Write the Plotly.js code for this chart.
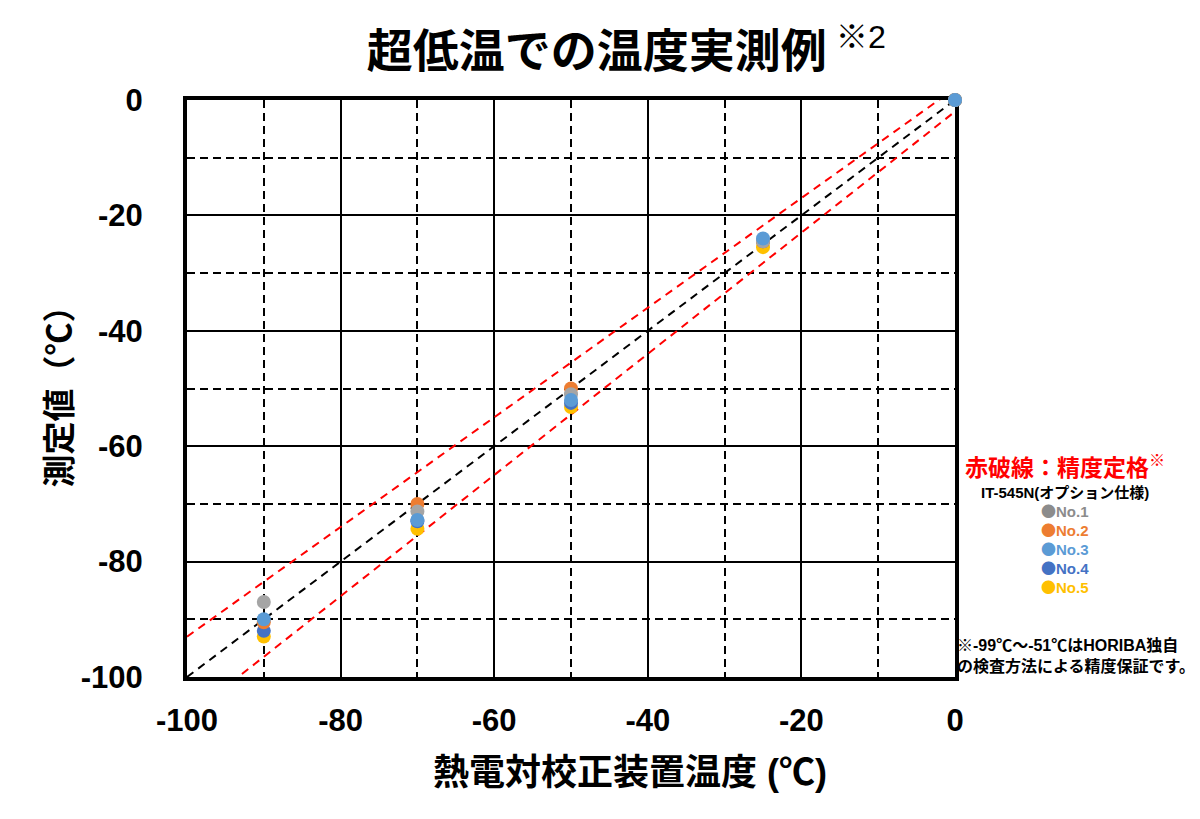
<!DOCTYPE html>
<html>
<head>
<meta charset="utf-8">
<script src="https://cdn.plot.ly/plotly-3.0.1.min.js"></script>
<style>
  body { margin: 0; background: #fff; }
  #chart { width: 1200px; height: 819px; }
</style>
</head>
<body>
<div id="chart"></div>
<script>
// reference temperature (thermocouple calibrator), °C
var refTemp = [-90, -70, -50, -25, 0];

// measured values per unit
var no1 = [-87, -71.3, -51, -24.5, 0];
var no2 = [-90.5, -70, -50, -24.5, 0];
var no3 = [-90, -72.8, -52, -24, 0];
var no4 = [-92, -73, -52.5, -24.5, 0];
var no5 = [-93, -74.3, -53.2, -25.5, 0];

var seriesNames = ['No.1', 'No.2', 'No.3', 'No.4', 'No.5'];
var seriesColors = ['#A5A5A5', '#ED7D31', '#5B9BD5', '#4472C4', '#FFC000'];
var legendColors = ['#8C8C8C', '#ED7D31', '#5B9BD5', '#4472C4', '#FFC000'];

// ideal line and tolerance band end points (red dashes)
var lineX = [-100, 0];
var idealY = [-100, 0];
var upperY = [-93, 2];
var lowerY = [-107, -2];

// axis ticks (plain hyphen minus like the original)
var tickVals = [-100, -80, -60, -40, -20, 0];
var tickText = ['-100', '-80', '-60', '-40', '-20', '0'];

var JP = 'Liberation Sans, Noto Sans CJK JP, sans-serif';
var CJK = 'Noto Sans CJK JP, sans-serif';

var traces = [];
traces.push({x: lineX, y: upperY, mode: 'lines', line: {color: '#FF0000', width: 2, dash: '8px,6px'}, hoverinfo: 'skip'});
traces.push({x: lineX, y: lowerY, mode: 'lines', line: {color: '#FF0000', width: 2, dash: '8px,6px'}, hoverinfo: 'skip'});
traces.push({x: lineX, y: idealY, mode: 'lines', line: {color: '#000000', width: 2, dash: '8px,6px'}, hoverinfo: 'skip'});

var seriesData = [no1, no2, no3, no4, no5];
var drawOrder = [4, 3, 1, 0, 2];
drawOrder.forEach(function(i) {
    traces.push({
        x: refTemp, y: seriesData[i], name: seriesNames[i],
        mode: 'markers', cliponaxis: false,
        marker: {color: seriesColors[i], size: 14}
    });
});

function makeAxis(extra) {
    return Object.assign({
        range: [-100, 0], tickmode: 'array', tickvals: tickVals, ticktext: tickText,
        showgrid: true, gridcolor: '#000', gridwidth: 2,
        minor: {dtick: 10, tick0: 0, showgrid: true, gridcolor: '#000', gridwidth: 2, griddash: '8px,5px'},
        zeroline: false, showline: true, linecolor: '#000', linewidth: 4, mirror: true,
        layer: 'below traces',
        ticks: 'outside', tickcolor: 'rgba(0,0,0,0)',
        tickfont: {family: JP, size: 31, color: '#000', weight: 'bold'}
    }, extra);
}

var xaxis = makeAxis({ticklen: 13});
var yaxis = makeAxis({
    ticklen: 34,
    title: {text: '<b>測定値（℃）</b>', font: {family: JP, size: 33, color: '#000'}, standoff: 0}
});

var annotations = [];
// x axis title, placed like the original (a bit right of centre)
annotations.push({xref: 'paper', yref: 'paper', x: 0.577, y: -0.166, xanchor: 'center', yanchor: 'middle', showarrow: false,
    text: '<b>熱電対校正装置温度 (℃)</b>', font: {family: JP, size: 36, color: '#000'}});

var lx = 1.143;
annotations.push({xref: 'paper', yref: 'paper', x: lx, y: 0.366, xanchor: 'center', yanchor: 'middle', showarrow: false,
    text: '<b>赤破線：精度定格</b><sup>※</sup>', font: {family: JP, size: 23, color: '#FF0000'}});
annotations.push({xref: 'paper', yref: 'paper', x: lx, y: 0.319, xanchor: 'center', yanchor: 'middle', showarrow: false,
    text: '<b>IT-545N(オプション仕様)</b>', font: {family: JP, size: 15, color: '#000'}});
seriesNames.forEach(function(n, i) {
    annotations.push({xref: 'paper', yref: 'paper', x: lx, y: 0.288 - i * 0.033, xanchor: 'center', yanchor: 'middle', showarrow: false,
        text: '<b><span style="font-family:' + CJK + '">●</span>' + n + '</b>',
        font: {family: JP, size: 15, color: legendColors[i]}});
});
annotations.push({xref: 'paper', yref: 'paper', x: 1.0, y: 0.038, xanchor: 'left', yanchor: 'middle', align: 'left', showarrow: false,
    text: '<b>※-99℃～-51℃はHORIBA独自<br>の検査方法による精度保証です。</b>', font: {family: JP, size: 16, color: '#000'}});

var layout = {
    width: 1200, height: 819,
    margin: {l: 187, r: 245, t: 100, b: 142},
    paper_bgcolor: '#fff', plot_bgcolor: '#fff',
    showlegend: false,
    title: {text: '<b>超低温での温度実測例</b><sup> ※2</sup>', x: 0.572, xref: 'paper', xanchor: 'center',
        y: 0.938, yanchor: 'middle',
        font: {family: JP, size: 46, color: '#000'}},
    xaxis: xaxis, yaxis: yaxis,
    annotations: annotations
};

Plotly.newPlot('chart', traces, layout, {displayModeBar: false});
</script>
</body>
</html>
